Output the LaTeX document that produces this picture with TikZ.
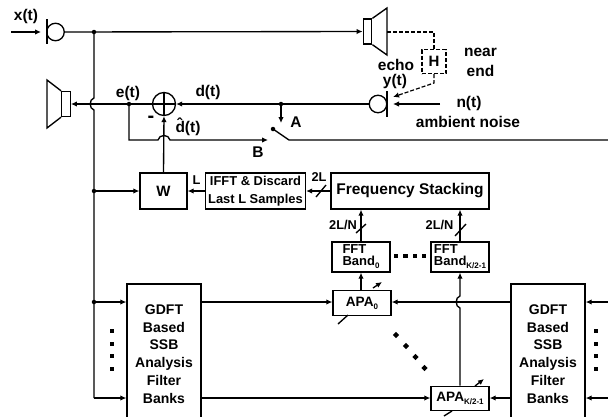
\documentclass[tikz,border=0pt]{standalone}
\usepackage{fontspec}
\setmainfont{Liberation Sans}
\usetikzlibrary{arrows.meta}
\newcommand{\subtxt}[1]{\raisebox{-3pt}{\fontsize{8}{8}\selectfont #1}}
\tikzset{
  >={Latex[length=6pt,width=5.5pt]},
  wire/.style={line width=1.35pt},
  echowire/.style={line width=1.2pt,dash pattern=on 4pt off 2pt},
  blockbox/.style={draw,line width=1.35pt,inner sep=0pt,align=center,font=\fontsize{13}{12}\bfseries\selectfont},
  filterbox/.style={blockbox,minimum width=74pt,minimum height=140pt,font=\fontsize{14}{17.7}\bfseries\selectfont},
  apabox/.style={blockbox,minimum width=58pt,minimum height=24.5pt,font=\fontsize{13.6}{14}\bfseries\selectfont},
  fftbox/.style={blockbox,minimum width=58pt,minimum height=30pt,align=left},
  conebox/.style={draw,line width=1.35pt,minimum width=8.5pt,minimum height=25pt,inner sep=0pt},
  micnode/.style={draw,circle,line width=1.35pt,minimum size=17.5pt,inner sep=0pt},
  label/.style={inner sep=0pt,font=\fontsize{15.5}{17}\bfseries\selectfont,align=center},
  smalllabel/.style={inner sep=0pt,font=\fontsize{12.8}{13}\bfseries\selectfont},
  dot/.style={fill,circle,inner sep=0pt,minimum size=4.5pt},
  bit/.style={fill,inner sep=0pt,minimum size=4.5pt}
}
\begin{document}
\begin{tikzpicture}[x=1pt,y=-1pt]
    \useasboundingbox (0,0) rectangle (608,416);
    \clip (0,0) rectangle (608,416);

    % top row
    \coordinate (xin) at (11,32);
    \node[micnode] (micx) at (55.5,32) {};
    \draw[wire] (47,19) -- (47,44);
    \draw[wire,->] (xin) -- (41,32);
    \node[label] (xlab) at (26,16) {x(t)};

    % speaker right
    \node[conebox] (spkright) at (367.5,31.5) {};
    \coordinate (coneright) at (387,32);
    \draw[wire] (spkright.north east) -- (387,8) -- (387,55) -- (spkright.south east);

    % speaker left
    \node[conebox] (spkleft) at (66,104) {};
    \draw[wire] (spkleft.north west) -- (47,80) -- (47,128) -- (spkleft.south west);

    % microphone right
    \node[micnode] (micy) at (378,104) {};
    \draw[wire] (387,91) -- (387,117);

    % sum
    \node[draw,circle,line width=1.35pt,minimum size=23pt,inner sep=0pt] (sum) at (164,104) {};
    \draw[wire] (sum.north) -- (sum.south);
    \draw[wire] (sum.west) -- (sum.east);

    % blocks
    \node[blockbox,minimum width=47pt,minimum height=36pt,font=\fontsize{15}{15}\bfseries\selectfont] (w) at (163.5,191) {W};
    \node[blockbox,minimum width=100pt,minimum height=36pt,font=\fontsize{12.9}{18}\bfseries\selectfont] (ifft) at (255.5,191) {IFFT \& Discard\\Last L Samples};
    \node[blockbox,minimum width=158pt,minimum height=36pt,font=\fontsize{15.5}{17}\bfseries\selectfont] (stack) at (410,191) {Frequency Stacking};
    \node[fftbox] (fft0) at (361,257) {FFT\\Band\subtxt{0}};
    \node[fftbox] (fftk) at (460,257) {FFT\\Band\subtxt{K/2-1}};
    \node[apabox] (apa0) at (362,303) {APA\subtxt{0}};
    \node[apabox] (apak) at (460,398.5) {APA\subtxt{K/2-1}};
    \node[filterbox] (gdftl) at (164,354) {GDFT\\Based\\SSB\\Analysis\\Filter\\Banks};
    \node[filterbox] (gdftr) at (548,354) {GDFT\\Based\\SSB\\Analysis\\Filter\\Banks};
    \node[draw,echowire,minimum width=24pt,minimum height=24pt,inner sep=0pt,font=\fontsize{15}{15}\bfseries\selectfont] (h) at (434,61.5) {H};

    % junctions
    \coordinate (jtop) at (94,32);
    \coordinate (jw) at (94,191);
    \coordinate (ja0) at (94,302);
    \coordinate (ja1) at (94,398);
    \coordinate (jd) at (281,104);
    \coordinate (je) at (129,104);
    \coordinate (swa) at (273,129);
    \coordinate (swb) at (289,140);
    \foreach \p in {jtop,jw,ja0,jd,je} \node[dot] at (\p) {};
    \node[dot] at (swa) {};

    % signal lines
    \draw[wire,->] (micx.east) -- (spkright.west);
    \draw[wire] (jtop) -- (94,98) .. controls (89,99) and (89,109) .. (94,110) -- (ja1);
    \draw[wire,->] (ja1) -- (gdftl.west |- ja1);
    \draw[wire,->] (ja0) -- (gdftl.west |- ja0);
    \draw[wire,->] (jw) -- (w.west |- jw);
    \draw[wire,->] (micy.west) -- (sum.east);
    \draw[wire,->] (sum.west) -- (spkleft.east);
    \draw[wire,->] (jd) -- (281,123);
    \draw[wire,->] (je) -- (129,140) -- (158,140) .. controls (159,134) and (169,134) .. (170,140) -- (268,140);
    \draw[wire] (swa) -- (swb) -- (608,140);
    \draw[wire,->] (w.north) -- (sum.south);
    \draw[wire,->] (stack.west) -- (ifft.east);
    \draw[wire,->] (ifft.west) -- (w.east);
    \draw[wire,->] (fft0.north) -- (fft0.north |- stack.south);
    \draw[wire,->] (fftk.north) -- (fftk.north |- stack.south);
    \draw[wire,->] (fft0.south |- apa0.north) -- (fft0.south);
    \draw[wire,->] (apak.north) -- (460,308) .. controls (455,307) and (455,297) .. (460,296) -- (fftk.south);
    \draw[wire,->] (gdftl.east |- 0,302) -- (apa0.west |- 0,302);
    \draw[wire,->] (gdftl.east |- 0,398) -- (apak.west |- 0,398);
    \draw[wire,->] (gdftr.west |- 0,302) -- (apa0.east |- 0,302);
    \draw[wire,->] (gdftr.west |- 0,398) -- (apak.east |- 0,398);
    \draw[wire,->] (608,302) -- (gdftr.east |- 0,302);
    \draw[wire,->] (608,398) -- (gdftr.east |- 0,398);

    % echo path
    \draw[echowire] (coneright) -- (h.north |- coneright) -- (h.north);
    \draw[echowire,->] (h.south) -- (434,83) -- (393,97);
    \draw[wire,->] (440,104) -- (393,104);

    % slashes
    \draw[wire] (316,197) -- (326,185);
    \draw[wire] (356,233) -- (366,224);
    \draw[wire] (455,236) -- (466,224);

    % adaptation arrows
    \draw[wire] (338,324) -- (348,315);
    \draw[wire,->] (373,288) -- (382,282);
    \draw[wire,->] (475,386) -- (484,379);
    \draw[wire] (444,416) -- (452,411);

    % texts
    \node[label] at (128,93) {e(t)};
    \node[label] at (208,92) {d(t)};
    \node[label,font=\fontsize{20}{20}\bfseries\selectfont] at (151,119) {-};
    \node[label] at (188,127) {\^{d}(t)};
    \node[label] at (296,122) {A};
    \node[label] at (258,152) {B};
    \node[label] at (396,65) {echo};
    \node[label] at (395,81) {y(t)};
    \node[label] at (480.5,52) {near};
    \node[label] at (480.5,71) {end};
    \node[label] at (469,103) {n(t)};
    \node[label] at (468,122) {ambient noise};
    \node[smalllabel] at (196.5,180) {L};
    \node[smalllabel] at (319,177.5) {2L};
    \node[smalllabel] at (343,224.5) {2L/N};
    \node[smalllabel] at (439.5,224.5) {2L/N};

    % dots
    \foreach \y in {331,344,356,369} {
      \node[bit] at (112,\y) {};
      \node[bit] at (596,\y) {};
    }
    \foreach \x/\y in {396/335,406/346,415.5/357,424.5/368} \node[bit,rotate=45] at (\x,\y) {};
    \foreach \x in {396,405.5,415,424} \node[bit] at (\x,256) {};
\end{tikzpicture}
\end{document}
